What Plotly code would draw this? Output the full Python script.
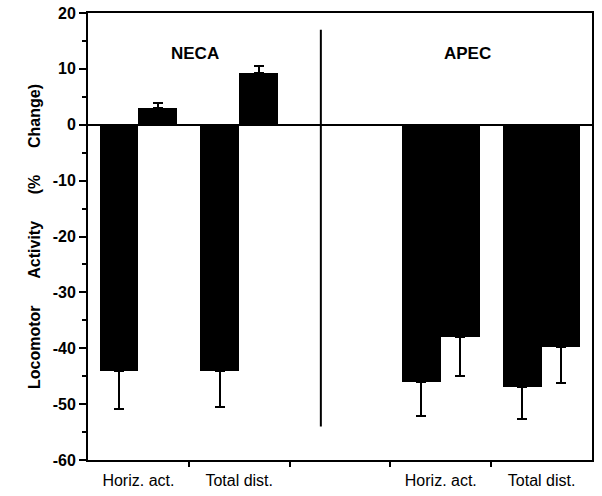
import plotly.graph_objects as go

# slots: 0,1 = NECA, 2 = gap, 3,4 = APEC
slot_pos = [0, 1, 3, 4]
slot_labels = ["Horiz. act.", "Total dist.", "", "Horiz. act.", "Total dist."]

first_vals = [-44.0, -44.0, -46.0, -47.0]
first_err = [6.8, 6.5, 6.2, 5.7]
second_vals = [3.0, 9.3, -38.0, -39.8]
second_err = [0.9, 1.2, 7.0, 6.4]

y_ticks = [20, 10, 0, -10, -20, -30, -40, -50, -60]
y_ticktext = ["20", "10", "0", "-10", "-20", "-30", "-40", "-50", "-60"]

group_names = ["NECA", "APEC"]
group_label_x = [0.56, 3.26]
group_label_y = [12.8, 12.8]

FONT = "Liberation Sans, Arial"
NB = "\u00a0"


def split_err(vals, errs):
    up = [e if v > 0 else 0 for v, e in zip(vals, errs)]
    down = [e if v < 0 else 0 for v, e in zip(vals, errs)]
    return up, down


BAR_W = 0.385
fig = go.Figure()
for vals, errs, off in [(first_vals, first_err, -BAR_W), (second_vals, second_err, 0)]:
    up, down = split_err(vals, errs)
    fig.add_trace(go.Bar(
        x=slot_pos, y=vals, width=BAR_W, offset=off,
        marker=dict(color="black", line=dict(width=0)),
        error_y=dict(type="data", symmetric=False, array=up, arrayminus=down,
                     color="black", thickness=2, width=5),
        showlegend=False,
    ))

# vertical divider between the two drug groups
fig.add_shape(type="line", x0=1.81, x1=1.81, y0=17, y1=-54,
              line=dict(color="black", width=2))

for name, gx, gy in zip(group_names, group_label_x, group_label_y):
    fig.add_annotation(x=gx, y=gy, text=name, showarrow=False,
                       font=dict(family=FONT, size=17, color="black", weight="bold"))

gap = NB * 6
ytitle = gap.join(["Locomotor", "Activity", "(%", "Change)"]) + NB * 11

fig.update_layout(
    width=602, height=496,
    paper_bgcolor="white", plot_bgcolor="white",
    margin=dict(l=88, r=10, t=13, b=36),
    bargap=0,
    xaxis=dict(
        range=[-0.5, 4.5], tickmode="array", automargin=False,
        tickvals=list(range(len(slot_labels))), ticktext=slot_labels,
        ticks="", showgrid=False, zeroline=False, ticklabelstandoff=5,
        showline=True, mirror=True, linecolor="black", linewidth=2,
        tickfont=dict(family=FONT, size=16, color="black"),
        minor=dict(tickmode="array", tickvals=[0.5, 1.5, 2.5, 3.5],
                   ticks="outside", ticklen=5, tickwidth=2, tickcolor="black"),
    ),
    yaxis=dict(
        range=[-60, 20], tickmode="array", automargin=False,
        tickvals=y_ticks, ticktext=y_ticktext,
        ticks="outside", ticklen=7, tickwidth=2, tickcolor="black",
        showgrid=False, zeroline=True, zerolinecolor="black", zerolinewidth=2,
        showline=True, mirror=True, linecolor="black", linewidth=2,
        tickfont=dict(family=FONT, size=16, color="black", weight="bold"),
        minor=dict(dtick=5, tick0=0, ticks="outside", ticklen=4, tickwidth=2,
                   tickcolor="black"),
        title=dict(text=ytitle, standoff=8,
                   font=dict(family=FONT, size=16, color="black", weight="bold")),
    ),
)

fig.write_html("out.html", config={"displayModeBar": False},
               post_script="document.body.style.margin='0';")
